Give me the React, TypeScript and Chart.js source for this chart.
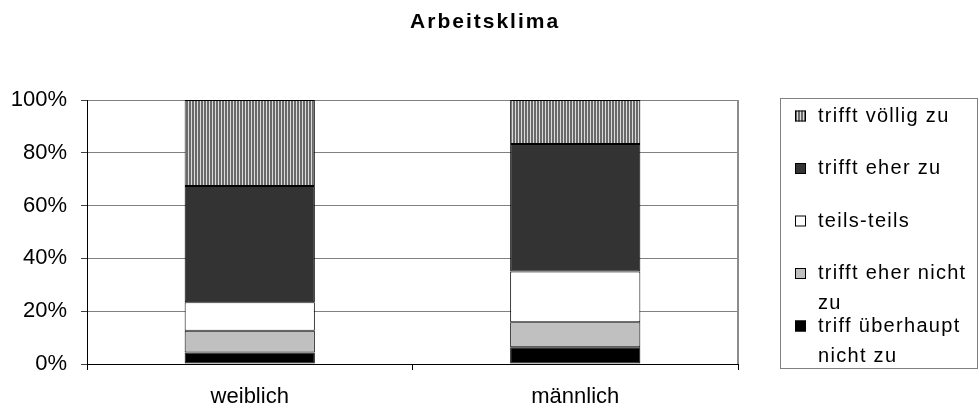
import React, { useEffect, useRef } from 'react';
import { Chart, registerables } from 'chart.js';

Chart.register(...registerables);

const TITLE = 'Arbeitsklima';
const categories = ['weiblich', 'männlich'];

// series, bottom to top of the stack
const seriesNames = [
  'triff überhaupt nicht zu',
  'trifft eher nicht zu',
  'teils-teils',
  'trifft eher zu',
  'trifft völlig zu',
];
const seriesLegendLines = [
  ['triff überhaupt', 'nicht zu'],
  ['trifft eher nicht', 'zu'],
  ['teils-teils'],
  ['trifft eher zu'],
  ['trifft völlig zu'],
];
const ueberhauptNicht = [4.4, 6.3];
const eherNicht = [8.2, 9.5];
const teilsTeils = [10.8, 19.2];
const eherZu = [44.0, 48.3];
const voelligZu = [32.6, 16.7];
const yTickValues = [0, 20, 40, 60, 80, 100];

const FONT = '"Liberation Sans", Arial, sans-serif';

function makeStripePattern(): CanvasPattern | string {
  const c = document.createElement('canvas');
  c.width = 3;
  c.height = 4;
  const g = c.getContext('2d');
  if (!g) return '#999999';
  g.fillStyle = '#6a6a6a';
  g.fillRect(0, 0, 3, 4);
  g.fillStyle = '#dcdcdc';
  g.fillRect(2, 0, 1, 4);
  const p = g.createPattern(c, 'repeat');
  return p || '#999999';
}

const chromePlugin = {
  id: 'chrome',
  beforeDatasetsDraw(chart: any) {
    const { ctx, chartArea: a } = chart;
    ctx.save();
    ctx.strokeStyle = '#8c8c8c';
    ctx.lineWidth = 2;
    ctx.beginPath();
    ctx.moveTo(a.right, a.top);
    ctx.lineTo(a.right, a.bottom);
    ctx.stroke();
    ctx.restore();
  },
  afterDraw(chart: any) {
    const { ctx, chartArea: a } = chart;
    ctx.save();
    // title
    ctx.font = `bold 21px ${FONT}`;
    (ctx as any).letterSpacing = '2px';
    ctx.fillStyle = '#000';
    ctx.textAlign = 'center';
    ctx.textBaseline = 'middle';
    ctx.fillText(TITLE, chart.width * 0.495 + 1, 22);

    // legend box
    const left = a.right + 42;
    const right = chart.width - 1;
    const top = a.top - 2;
    const bottom = a.bottom + 4;
    ctx.strokeStyle = '#808080';
    ctx.lineWidth = 1;
    ctx.strokeRect(left + 0.5, top + 0.5, right - left, bottom - top);

    ctx.font = `20px ${FONT}`;
    (ctx as any).letterSpacing = '1.3px';
    ctx.textAlign = 'left';
    const ds = chart.data.datasets;
    const n = ds.length;
    for (let i = 0; i < n; i++) {
      const idx = n - 1 - i;
      const yc = top + 18 + i * 52.5;
      const sx = left + 15;
      const size = 11;
      ctx.fillStyle = ds[idx].backgroundColor;
      ctx.fillRect(sx, yc - size / 2, size, size);
      ctx.strokeStyle = '#000';
      ctx.strokeRect(sx + 0.5, yc - size / 2 + 0.5, size - 1, size - 1);
      ctx.fillStyle = '#000';
      const lines = seriesLegendLines[idx];
      lines.forEach((ln: string, k: number) => {
        ctx.fillText(ln, left + 38, yc + k * 30);
      });
    }
    ctx.restore();
  },
};

export default function App() {
  const ref = useRef<HTMLCanvasElement | null>(null);

  useEffect(() => {
    const canvas = ref.current;
    if (!canvas) return;
    const stripe = makeStripePattern();
    const colors: any[] = ['#000000', '#c0c0c0', '#ffffff', '#333333', stripe];
    const values = [ueberhauptNicht, eherNicht, teilsTeils, eherZu, voelligZu];

    const chart = new Chart(canvas, {
      type: 'bar',
      data: {
        labels: categories,
        datasets: values.map((v, i) => ({
          label: seriesNames[i],
          data: v,
          backgroundColor: colors[i],
          borderColor: '#000000',
          borderWidth: 1,
          borderSkipped: false,
          categoryPercentage: 1,
          barPercentage: 0.4,
        })),
      },
      options: {
        responsive: false,
        animation: false,
        layout: { padding: { top: 100, right: 240, bottom: 0, left: 0 } },
        plugins: {
          legend: { display: false },
          title: { display: false },
          tooltip: { enabled: false },
        },
        scales: {
          x: {
            stacked: true,
            grid: {
              display: true,
              drawOnChartArea: false,
              drawTicks: true,
              tickLength: 6,
              color: '#000',
              offset: true,
            },
            border: { display: true, color: '#000', width: 1 },
            ticks: {
              color: '#000',
              font: { family: FONT, size: 22 },
              padding: 14,
              maxRotation: 0,
            },
            afterFit(scale: any) {
              scale.height = 46;
            },
          },
          y: {
            stacked: true,
            min: 0,
            max: 100,
            afterBuildTicks(scale: any) {
              scale.ticks = yTickValues.map((v) => ({ value: v }));
            },
            grid: {
              color: '#808080',
              tickColor: '#404040',
              tickLength: 6,
              drawTicks: true,
            },
            border: { display: true, color: '#000', width: 1 },
            ticks: {
              color: '#000',
              font: { family: FONT, size: 22 },
              padding: 14,
              callback: (v: any) => `${v}%`,
            },
            afterFit(scale: any) {
              scale.width = 87;
            },
          },
        },
      },
      plugins: [chromePlugin],
    });
    return () => chart.destroy();
  }, []);

  return (
    <div style={{ position: 'absolute', left: 0, top: 0, width: 978, height: 410, background: '#fff' }}>
      <canvas ref={ref} width={978} height={410} style={{ display: 'block' }} />
    </div>
  );
}
